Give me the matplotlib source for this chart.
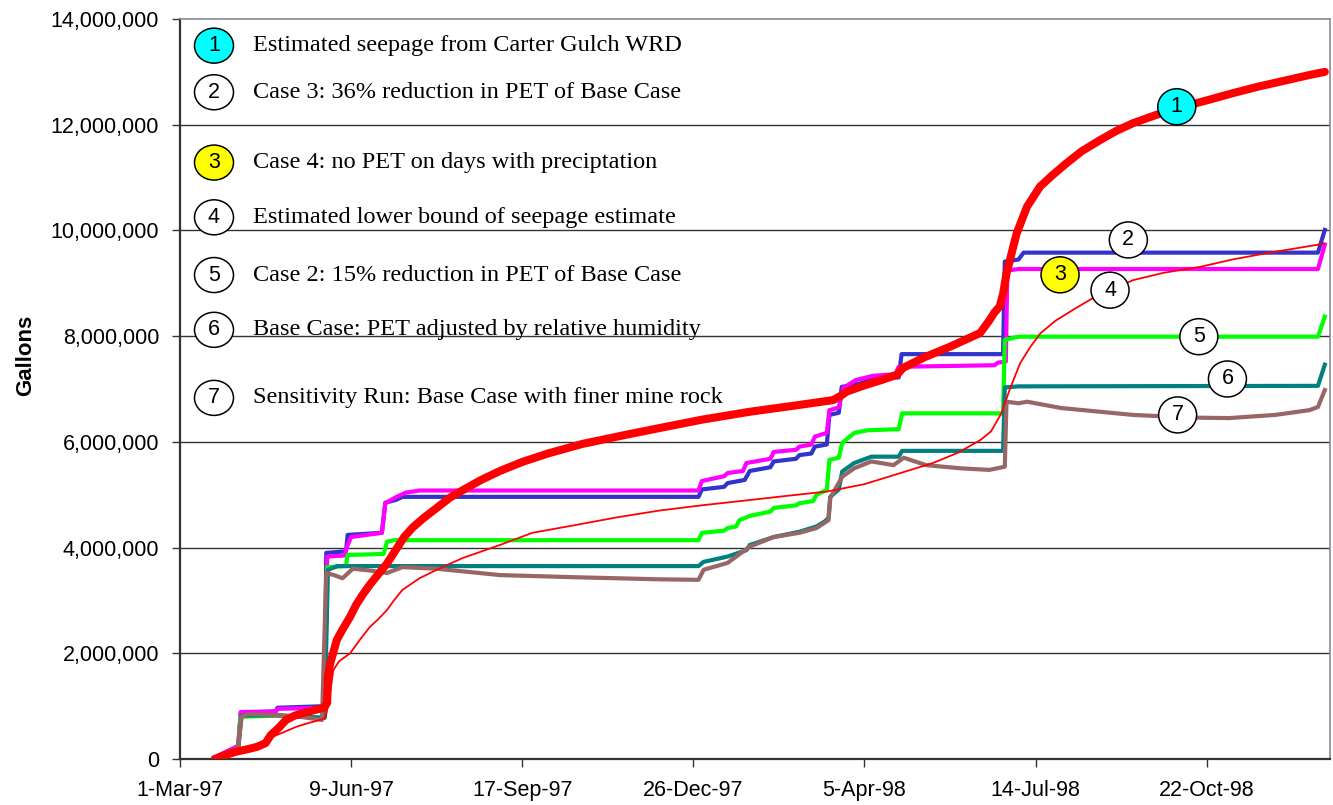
import numpy as np
from matplotlib import pyplot as plt
from matplotlib.patches import Ellipse
from matplotlib.ticker import FuncFormatter

# x = days after 1-Mar-97, y = millions of gallons
seep_days = [20.5, 27, 33, 40, 45, 50, 53, 58, 62, 67, 72, 78, 84, 86, 86.5, 87.7, 89.5, 91.6, 95, 99.4,
             103, 107, 111, 116, 121, 126, 131, 136, 142, 150, 158, 166, 176, 187, 200, 215, 235, 260,
             280, 305, 333, 360, 381.6, 386, 389.6, 400, 410, 419, 422.6, 435, 450, 467.6, 473, 476, 479,
             481, 483, 485, 487, 489, 492, 495, 499, 502.6, 510, 518, 527, 537.7, 547, 557, 570, 582.5,
             600, 615.6, 630, 645, 660, 669]
seep_vals = [0, 0.08, 0.14, 0.19, 0.23, 0.3, 0.45, 0.6, 0.74, 0.82, 0.87, 0.92, 0.97, 1.06, 1.56, 1.8, 2.0,
             2.25, 2.45, 2.69, 2.92, 3.12, 3.3, 3.5, 3.7, 3.95, 4.2, 4.38, 4.55, 4.75, 4.95, 5.1, 5.28,
             5.45, 5.62, 5.78, 5.96, 6.13, 6.26, 6.42, 6.57, 6.69, 6.79, 6.87, 6.95, 7.07, 7.17, 7.27, 7.4,
             7.6, 7.8, 8.06, 8.3, 8.45, 8.56, 8.8, 9.19, 9.44, 9.7, 9.95, 10.2, 10.45, 10.65, 10.83, 11.05,
             11.27, 11.5, 11.71, 11.88, 12.03, 12.18, 12.31, 12.46, 12.6, 12.72, 12.83, 12.94, 13.0]

lower_days = [20, 27, 33, 40, 46, 52.6, 60, 68, 75, 82, 85, 86.5, 88, 89.6, 93, 99.4, 105, 111, 116, 121,
              125, 130, 140, 150, 165, 187, 206, 230, 255, 280, 305, 333, 355, 378, 400, 421, 440, 455,
              468, 474, 480, 485, 491, 497, 503, 512, 522, 535, 557, 575, 596, 615, 635, 650, 665, 669]
lower_vals = [0, 0.06, 0.12, 0.2, 0.3, 0.4, 0.5, 0.61, 0.68, 0.74, 0.78, 0.99, 1.3, 1.68, 1.85, 2.0, 2.25,
              2.5, 2.65, 2.82, 3.0, 3.2, 3.42, 3.58, 3.8, 4.05, 4.28, 4.42, 4.57, 4.7, 4.8, 4.9, 4.98,
              5.06, 5.2, 5.41, 5.6, 5.8, 6.04, 6.2, 6.54, 7.0, 7.49, 7.8, 8.06, 8.3, 8.5, 8.75, 9.06, 9.2,
              9.31, 9.45, 9.57, 9.65, 9.73, 9.75]

case3_days = [20, 34, 35.5, 37, 56, 57, 84.5, 85.5, 97, 98, 118, 120, 126, 130, 303, 305, 318, 320, 330,
              333, 345, 347, 360, 362, 369, 371, 378, 379.5, 385, 386.7, 397, 405, 420, 421.7, 481, 482,
              490, 493, 665, 669]
case3_vals = [0.03, 0.22, 0.85, 0.88, 0.90, 0.97, 1.00, 3.90, 3.93, 4.24, 4.28, 4.85, 4.90, 4.96, 4.96,
              5.10, 5.15, 5.22, 5.28, 5.45, 5.52, 5.63, 5.68, 5.75, 5.78, 5.91, 5.95, 6.51, 6.55, 7.04,
              7.10, 7.20, 7.22, 7.66, 7.66, 9.41, 9.45, 9.58, 9.58, 10.01]

case4_days = [20, 34, 35.5, 56, 57, 84.5, 86, 96, 98, 100, 118, 120, 126, 132, 140, 303, 305, 318, 320,
              329, 331, 345, 347, 360, 362, 369, 371, 378, 379.5, 385, 387.6, 395, 405, 418, 420, 476,
              478, 482.6, 483.5, 490, 665, 669]
case4_vals = [0.03, 0.25, 0.89, 0.90, 0.95, 0.97, 3.83, 3.85, 4.05, 4.20, 4.28, 4.84, 4.95, 5.04, 5.08,
              5.08, 5.26, 5.35, 5.41, 5.45, 5.60, 5.68, 5.81, 5.85, 5.91, 5.95, 6.10, 6.17, 6.60, 6.65,
              7.02, 7.17, 7.25, 7.28, 7.42, 7.45, 7.50, 7.52, 9.24, 9.27, 9.27, 9.73]

case2_days = [20, 34, 35.5, 56, 84.5, 86, 97, 98, 119, 121, 125, 303, 305, 318, 320, 325, 327, 333, 345,
              347, 360, 362, 370, 372, 378, 379.5, 385, 387, 394, 402, 420, 422, 481, 482, 490, 665, 669]
case2_vals = [0.02, 0.2, 0.80, 0.82, 0.78, 3.63, 3.65, 3.86, 3.88, 4.11, 4.14, 4.14, 4.28, 4.32, 4.37,
              4.40, 4.52, 4.60, 4.68, 4.75, 4.80, 4.84, 4.88, 5.0, 5.09, 5.66, 5.70, 5.98, 6.17, 6.22,
              6.24, 6.54, 6.54, 7.93, 7.99, 7.99, 8.37]

base_days = [20, 34, 36, 56, 84.5, 86.5, 92, 303, 306, 320, 331, 333, 347, 362, 372, 377, 379, 380, 385,
             387, 394, 404, 420, 422, 481, 482, 490, 665, 669]
base_vals = [0.02, 0.2, 0.82, 0.83, 0.78, 3.58, 3.65, 3.65, 3.73, 3.83, 3.95, 4.05, 4.2, 4.3, 4.4, 4.5,
             4.56, 4.96, 5.1, 5.44, 5.6, 5.72, 5.72, 5.83, 5.83, 7.03, 7.05, 7.06, 7.46]

sens_days = [20, 34, 36, 40, 56, 70, 83, 85.5, 90, 95, 101, 110, 121, 130, 150, 187, 230, 280, 303, 306,
             320, 333, 347, 362, 372, 379, 380, 387, 394, 404, 417, 423, 436, 456, 473, 482, 483, 490,
             495, 515, 557, 590, 613, 640, 660, 665, 669]
sens_vals = [0.02, 0.2, 0.80, 0.85, 0.83, 0.80, 0.74, 3.52, 3.48, 3.42, 3.6, 3.57, 3.52, 3.63, 3.6, 3.48,
             3.44, 3.4, 3.39, 3.58, 3.71, 4.02, 4.2, 4.28, 4.37, 4.52, 4.94, 5.34, 5.5, 5.63, 5.56, 5.7,
             5.56, 5.5, 5.47, 5.53, 6.76, 6.73, 6.76, 6.64, 6.51, 6.46, 6.45, 6.51, 6.6, 6.66, 6.98]

tick_days = [0, 100, 200, 300, 400, 500, 600]
tick_labels = ["1-Mar-97", "9-Jun-97", "17-Sep-97", "26-Dec-97", "5-Apr-98", "14-Jul-98", "22-Oct-98"]

legend_texts = ["Estimated seepage from Carter Gulch WRD",
                "Case 3: 36% reduction in PET of Base Case",
                "Case 4: no PET on days with preciptation",
                "Estimated lower bound of seepage estimate",
                "Case 2: 15% reduction in PET of Base Case",
                "Base Case: PET adjusted by relative humidity",
                "Sensitivity Run: Base Case with finer mine rock"]
legend_fill = ["#00FFFF", "white", "#FFFF00", "white", "white", "white", "white"]
legend_y = [0.964, 0.901, 0.806, 0.732, 0.654, 0.580, 0.488]   # axes fraction

# numbered markers on the curves (day, million gallons)
mark_days = [582.5, 554.2, 514.3, 543.5, 595.4, 612.1, 583.0]
mark_vals = [12.34, 9.82, 9.16, 8.87, 7.99, 7.19, 6.51]

fig = plt.figure(figsize=(13.33, 8.05), dpi=100)
ax = fig.add_axes([0.135, 0.0571, 0.8627, 0.9193])

M = 1e6
series = [(case3_days, case3_vals, "#3333CC", 3.0),
          (case4_days, case4_vals, "#FF00FF", 3.0),
          (case2_days, case2_vals, "#00FF00", 3.0),
          (base_days, base_vals, "#008080", 3.0),
          (sens_days, sens_vals, "#996666", 3.0),
          (lower_days, lower_vals, "#FF0000", 1.3)]
for d, v, c, lw in series:
    ax.plot(d, np.array(v) * M, color=c, lw=lw, solid_joinstyle='round', zorder=3)
ax.plot(seep_days, np.array(seep_vals) * M, color="#FF0000", lw=5.8, solid_capstyle='round',
        solid_joinstyle='round', zorder=4)

ax.set_xlim(0, 672)
ax.set_ylim(0, 14e6)
ax.set_yticks(np.arange(0, 14.1e6, 2e6))
ax.yaxis.set_major_formatter(FuncFormatter(lambda v, p: f"{v:,.0f}"))
ax.set_xticks(tick_days)
ax.set_xticklabels(tick_labels)
for y in np.arange(2e6, 13e6, 2e6):
    ax.axhline(y, color="#333333", lw=1.0, zorder=1)

ax.tick_params(direction='out', length=6, width=1, color="#333333", labelsize=15.5, pad=9)
for lab in ax.get_xticklabels() + ax.get_yticklabels():
    lab.set_fontfamily('Liberation Sans')
for s in ['left', 'bottom']:
    ax.spines[s].set_color("#333333")
    ax.spines[s].set_linewidth(1.6)
for s in ['top', 'right']:
    ax.spines[s].set_color("#8a8a99")
    ax.spines[s].set_linewidth(1.2)

fig.text(0.019, 0.559, "Gallons", rotation=90, ha='center', va='center', fontsize=16,
         fontweight='bold', family=['Liberation Sans Narrow', 'Liberation Sans'])

# legend drawn as text
for i, (t, fc, yy) in enumerate(zip(legend_texts, legend_fill, legend_y)):
    ax.add_patch(Ellipse((0.0296, yy), 39 / 1150, 35 / 740, transform=ax.transAxes,
                         facecolor=fc, edgecolor='black', lw=1.1, zorder=5))
    ax.text(0.0296, yy, str(i + 1), transform=ax.transAxes, ha='center', va='center',
            fontsize=15.5, family='Liberation Sans', zorder=6)
    ax.text(0.0635, yy, t, transform=ax.transAxes, ha='left', va='center',
            fontsize=17.5, family='Liberation Serif', zorder=6)

for i, (d, v) in enumerate(zip(mark_days, mark_vals)):
    ax.add_patch(Ellipse((d, v * M), 38 / 1.711, 36 / 105.71 * 2e6, facecolor=legend_fill[i],
                         edgecolor='black', lw=1.1, zorder=5))
    ax.text(d, v * M, str(i + 1), ha='center', va='center', fontsize=15.5,
            family='Liberation Sans', zorder=6)

fig.savefig("out.png", dpi=100)
